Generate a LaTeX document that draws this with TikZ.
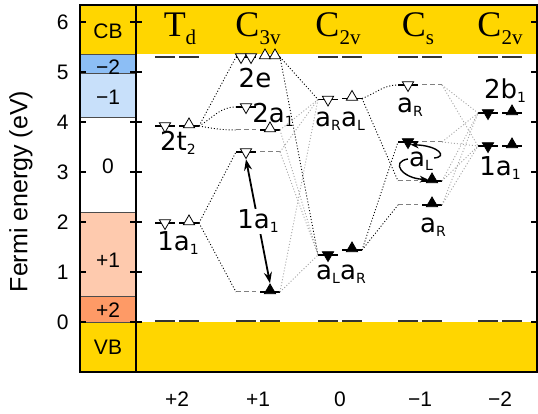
\documentclass[tikz,border=0pt]{standalone}
\usepackage{fontspec}
\setmainfont{Liberation Sans}
\newfontfamily\lblfont{DejaVu Sans}
\newfontfamily\titlefont{Liberation Serif}
\usetikzlibrary{shapes.geometric, arrows.meta}

\definecolor{band}{RGB}{255,214,0}
\definecolor{mtwo}{RGB}{140,190,245}
\definecolor{mone}{RGB}{200,224,250}
\definecolor{pone}{RGB}{254,202,174}
\definecolor{ptwo}{RGB}{254,154,102}

\newcommand{\sub}[1]{\raisebox{-4pt}{\fontsize{14}{14}\selectfont #1}}
\newcommand{\low}[1]{\raisebox{-8pt}{\fontsize{21}{21}\selectfont #1}}

\begin{document}
\begin{tikzpicture}[x=1pt, y=50pt,
    lvl/.style={line width=1.2pt},
    gap/.style={line width=1pt, gray, dash pattern=on 5pt off 3pt},
    bandlvl/.style={line width=2pt, black!80},
    corr/.style={line width=0.9pt, dash pattern=on 1pt off 2pt},
    corrg/.style={corr, gray!70},
    axtick/.style={line width=1.5pt},
    box/.style={line width=2.5pt},
    dno/.style={regular polygon, regular polygon sides=3, shape border rotate=180, draw, fill=white, minimum size=13pt, inner sep=0pt, line width=0.8pt},
    upo/.style={dno, shape border rotate=0, yshift=1.5pt},
    dnf/.style={dno, fill=black},
    upf/.style={upo, fill=black},
    axtext/.style={font=\fontsize{21}{21}\selectfont},
    lvllabel/.style={font=\lblfont\fontsize{26}{26}\selectfont, inner sep=1pt},
    sym/.style={anchor=base, font=\titlefont\fontsize{36}{36}\selectfont},
    bigarrow/.style={{Stealth[length=11pt,width=8pt]}-{Stealth[length=11pt,width=8pt]}, line width=1.8pt},
    turn/.style={-{Stealth[length=8pt,width=7pt]}, line width=1.4pt}
]
\useasboundingbox (0,-1.84) rectangle (538,6.44);

% Bands and charge states
\fill[band] (80,5.35) rectangle (537,6.34);
\fill[band] (80,-1) rectangle (537,0);
\fill[mtwo] (80,4.97) rectangle (136,5.35);
\fill[mone] (80,4.09) rectangle (136,4.97);
\fill[pone] (80,0.51) rectangle (136,2.19);
\fill[ptwo] (80,0) rectangle (136,0.51);
\foreach \e in {5.35,4.97,4.09,2.19,0.51,0}
    \draw[line width=0.7pt, black!70] (80,\e) -- (136,\e);

% Frame and ticks
\draw[box] (80,-1) rectangle (537,6.34);
\draw[box] (136,-1) -- (136,6.34);
\foreach \e in {0,...,6} {
    \draw[axtick] (80,\e) -- (86,\e);
    \draw[axtick] (130,\e) -- (142,\e);
    \draw[axtick] (537,\e) -- (531,\e);
    \node (y\e) [axtext, anchor=east] at (72,\e) {\e};
}
\node (ylab) [font=\fontsize{25}{25}\selectfont, rotate=90] at (21,2.61) {Fermi energy (eV)};

% Charge state labels
\node (lcb) [axtext] at (108,5.82) {CB};
\node (lm2) [axtext] at (108,5.1) {−2};
\node (lm1) [axtext] at (108,4.5) {−1};
\node (lz) [axtext] at (108,3.12) {0};
\node (lp1) [axtext] at (108,1.24) {+1};
\node (lp2) [axtext] at (108,0.24) {+2};
\node (lvb) [axtext] at (108,-0.5) {VB};
\foreach \c/\q [count=\i] in {177/+2, 258/+1, 340/0, 420/−1, 500/−2}
    \node (q\i) [axtext] at (\c,-1.54) {\q};

% Symmetry groups
\node (gtd) [sym] at (180,5.7) {T\low{d}};
\node (gc3) [sym] at (258,5.7) {C\low{3v}};
\node (gc2) [sym] at (338,5.7) {C\low{2v}};
\node (gcs) [sym] at (418,5.7) {C\low{s}};
\node (gcp) [sym] at (500,5.7) {C\low{2v}};

% Band edge levels
\foreach \c in {177,258,340,420,500} {
    \draw[bandlvl] (\c-22,5.3) -- (\c-2,5.3);
    \draw[bandlvl] (\c+2,5.3) -- (\c+22,5.3);
    \draw[bandlvl] (\c-22,0.02) -- (\c-2,0.02);
    \draw[bandlvl] (\c+2,0.02) -- (\c+22,0.02);
}

% Defect levels
\foreach \n/\x/\e in {td1d/165/1.98, td1u/189/1.98, td2d/165/3.92, td2u/189/3.92,
        c3ed/246/5.3, c3eu/270/5.3, c3ad/246/4.30, c3au/270/3.84, c3bd/246/3.40, c3bu/270/0.60,
        c2ad/328/4.45, c2au/352/4.47, c2bd/328/1.34, c2bu/352/1.44,
        csa/408/4.74, csb/408/3.60, csc/432/2.82, csd/432/2.34,
        cpad/488/4.18, cpau/512/4.18, cpbd/488/3.52, cpbu/512/3.52}
    \draw[lvl] (\x-10,\e) coordinate (\n-l) -- coordinate (\n) (\x+10,\e) coordinate (\n-r);
\foreach \n/\x/\e in {c3ax/246/3.84, c3bx/270/3.40, c3cx/246/0.60,
        csax/432/4.74, csbx/432/3.60, cscx/408/2.82, csdx/408/2.34}
    \draw[gap] (\x-10,\e) coordinate (\n-l) -- coordinate (\n) (\x+10,\e) coordinate (\n-r);

% Correlations
\draw[corr] (td2u-r) -- (c3ed-l);
\draw[corr] (td2u-r) to[out=30,in=180] (c3ad-l);
\draw[corr] (td2u-r) to[out=-10,in=180] (c3ax-l);
\draw[corr] (td1u-r) -- (c3bd-l);
\draw[corr] (td1u-r) -- (c3cx-l);
\draw[corr] (c3eu-r) -- (c2ad-l);
\draw[corr] (c3eu-r) -- (c2bd-l);
\foreach \s in {c3au, c3bx, c3bu}
    \foreach \t in {c2ad, c2bd}
        \draw[corrg] (\s-r) -- (\t-l);
\draw[corr] (c2au-r) to[out=20,in=180] (csa-l);
\draw[corr] (c2au-r) -- (cscx-l);
\draw[corr] (c2bu-r) -- (csb-l);
\draw[corr] (c2bu-r) -- (csdx-l);
\foreach \s in {csax, csbx, csc, csd}
    \foreach \t in {cpad, cpbd}
        \draw[corrg] (\s-r) -- (\t-l);

% Occupations
\foreach \n in {td1d, td2d, c3ad, c3bd, c2ad, csa}
    \node (m-\n) [dno] at (\n) {};
\foreach \n in {td1u, td2u, c3au, c2au}
    \node (m-\n) [upo] at (\n) {};
\foreach \n in {c2bd, csb, cpad, cpbd}
    \node (m-\n) [dnf] at (\n) {};
\foreach \n in {c3bu, c2bu, csc, csd, cpau, cpbu}
    \node (m-\n) [upf] at (\n) {};
\node (m-c3ed1) [dno] at ([xshift=-5pt]c3ed) {};
\node (m-c3ed2) [dno] at ([xshift=5pt]c3ed) {};
\node (m-c3eu1) [upo] at ([xshift=-5pt]c3eu) {};
\node (m-c3eu2) [upo] at ([xshift=5pt]c3eu) {};

% Level labels
\node (ltd1) [lvllabel] at (178,1.58) {1a\sub{1}};
\node (ltd2) [lvllabel] at (178,3.58) {2t\sub{2}};
\node (l3e) [lvllabel] at (255,4.88) {2e};
\node (l3a) [lvllabel] at (273,4.14) {2a\sub{1}};
\node (l2ar) [lvllabel] at (328,4.02) {a\sub{R}};
\node (l2al) [lvllabel] at (353,4.02) {a\sub{L}};
\node (l2bl) [lvllabel] at (328,0.96) {a\sub{L}};
\node (l2br) [lvllabel] at (353,0.96) {a\sub{R}};
\node (lcsa) [lvllabel] at (410,4.30) {a\sub{R}};
\node (lcsb) [lvllabel] at (421,3.22) {a\sub{L}};
\node (lcsd) [lvllabel] at (433,1.90) {a\sub{R}};
\node (lpa) [lvllabel] at (505,4.62) {2b\sub{1}};
\node (lpb) [lvllabel] at (500,3.08) {1a\sub{1}};

% Transitions
\draw[bigarrow] (m-c3bd.south) -- node (l3b) [lvllabel, fill=white] {1a\sub{1}} (m-c3bu.north);
\draw[turn] ([yshift=3pt]lcsb.east) .. controls +(14,0.02) and +(28,-0.02) .. (m-csb.south east);
\draw[turn] ([yshift=2pt]lcsb.west) .. controls +(-18,-0.06) and +(-25,0.02) .. (m-csc.west);

\end{tikzpicture}
\end{document}
